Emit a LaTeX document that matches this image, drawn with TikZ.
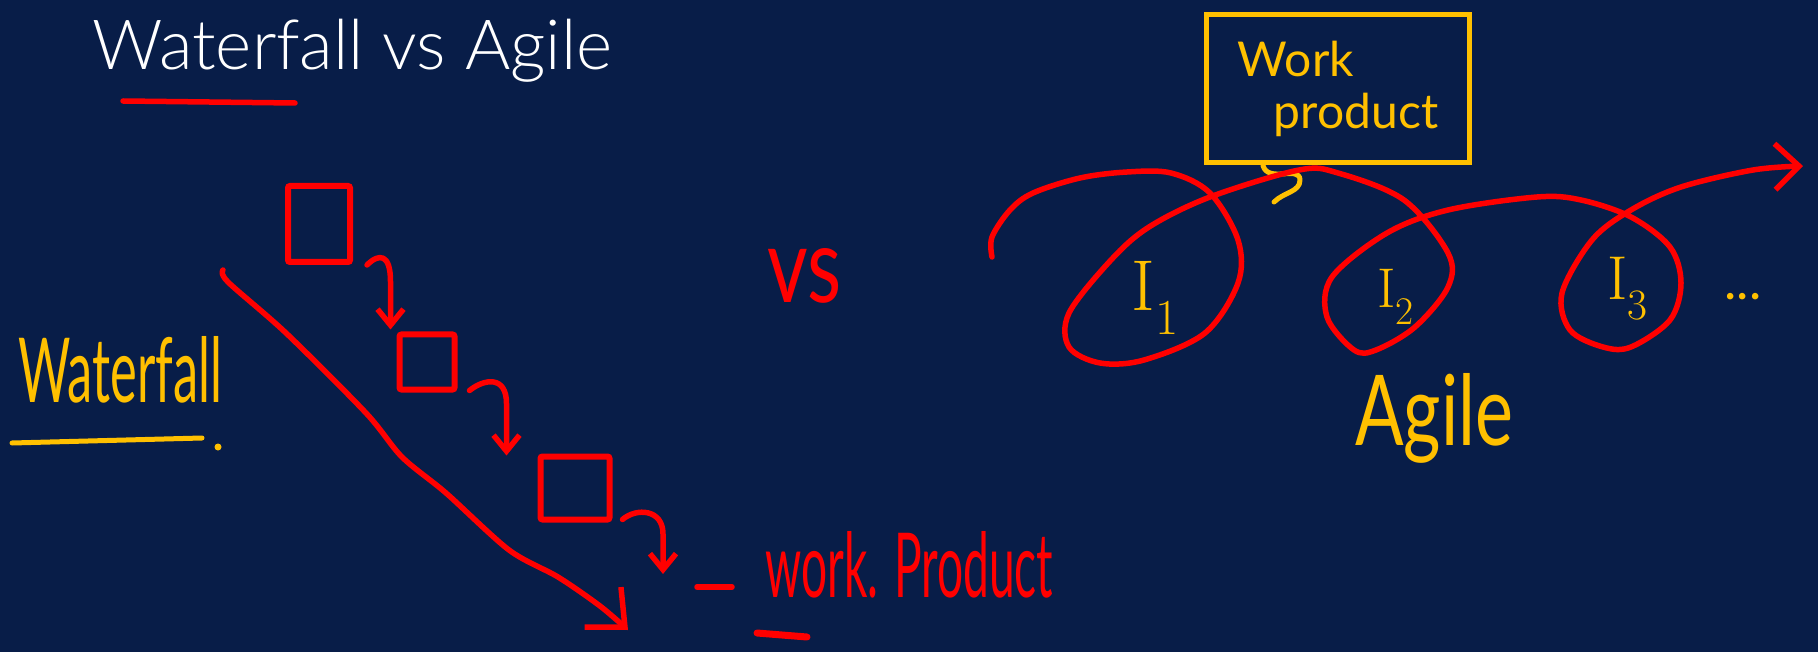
\documentclass[tikz,border=0pt]{standalone}
\usepackage{fontspec}
\setsansfont{Lato}
\newfontfamily\titlefont{Lato Light}
\usetikzlibrary{arrows.meta,calc}
\definecolor{bg}{HTML}{081D48}
\definecolor{wfred}{HTML}{FF0000}
\definecolor{wfyel}{HTML}{FFC000}
\begin{document}
\begin{tikzpicture}[x=1pt,y=-1pt,
  wred/.style={draw=wfred, line width=5.5pt, line cap=round, line join=round},
  wyel/.style={draw=wfyel, line width=5pt, line cap=round, line join=round},
  stage/.style={draw=wfred, line width=6pt, rectangle, rounded corners=2pt, inner sep=0pt},
  tipv/.style={-{Straight Barb[length=16pt,width=26pt]}},
  hand/.style={font=\sffamily, inner sep=0pt},
]
\useasboundingbox (0,0) rectangle (1818,652);
\fill[bg] (0,0) rectangle (1818,652);

% title
\node[inner sep=0pt, anchor=base west, text=white, font=\titlefont] (title) at (92,70) {\resizebox{520pt}{!}{Waterfall vs Agile}};
\draw[wred, line width=5.5pt] (123,101) -- (295,103);

% waterfall label
\node[hand, anchor=base west, text=wfyel] (wfl) at (18,402) {\resizebox{204pt}{66pt}{Waterfall}};
\draw[wyel] (12,443) -- (202,438);
\fill[wfyel] (218,447) circle (3.5pt);

% stages
\node[stage, minimum width=62pt, minimum height=76pt] (b1) at (319,224) {};
\node[stage, minimum width=55pt, minimum height=55pt] (b2) at (427,362) {};
\node[stage, minimum width=69pt, minimum height=63pt] (b3) at (575,488) {};
\coordinate (a3e) at (663,574);

\draw[wred,tipv] ($(b1.south east)+(14,0)$) .. controls +(12,-12) and +(0,-28) .. ($(b2.north west)+(-6,-50)$) -- ($(b2.north west)+(-6,-2)$);
\draw[wred,tipv] ($(b2.south east)+(12,-2)$) .. controls +(15,-12) and +(0,-28) .. ($(b3.north west)+(-31,-50)$) -- ($(b3.north west)+(-31,2)$);
\draw[wred,tipv] ($(b3.south east)+(10,-3)$) .. controls +(14,-12) and +(0,-25) .. ($(a3e)+(0,-40)$) -- (a3e);

% long diagonal
\coordinate (ds) at (223,270);
\coordinate (de) at (628,630);
\draw[wred, -{Straight Barb[length=30pt,width=54pt]}] plot[smooth, tension=0.5] coordinates {(ds) (228,282) (286,333) (366,413) (402,457) (446,493) (509,550) (558,577) (600,606) (de)};

% work product (waterfall)
\draw[wred] (697,587) -- (732,587);
\node[hand, anchor=base west, text=wfred] (wprod) at (765,597) {\resizebox{288pt}{66pt}{work. Product}};
\draw[wred, line width=7pt] (757,633) -- (807,637);

% vs
\node[hand, text=wfred] (vs) at (805,276) {\resizebox{74pt}{54pt}{vs}};

% agile
\node[draw=wfyel, line width=5pt, minimum width=263pt, minimum height=148pt, align=left, text=wfyel, font=\sffamily\fontsize{48}{52}\selectfont] (wpbox) at (1338,89) {Work\\\hspace*{36pt}product};
\coordinate (sqe) at (1274,202);
\draw[wyel] ($(wpbox.south west)+(59,0)$) .. controls +(5,18) and +(0,-15) .. (1300,180) .. controls +(0,12) and +(10,-10) .. (sqe);

\coordinate (ss) at (992,257);
\coordinate (se) at (1803,166);
\draw[wred, line width=5.5pt, -{Straight Barb[length=24pt,width=46pt]}] plot[smooth, tension=0.55] coordinates {(ss) (992,237) (1010,210) (1033,193) (1080,178) (1127,172) (1171,173) (1210,193) (1238,240) (1238,283) (1205,333) (1144,360) (1100,363) (1069,347) (1069,313) (1111,260) (1149,227) (1210,197) (1299,170) (1338,173) (1404,200) (1448,253) (1448,287) (1415,327) (1376,350) (1354,350) (1327,317) (1332,277) (1387,233) (1448,210) (1537,197) (1581,200) (1631,217) (1670,247) (1681,283) (1670,320) (1631,347) (1603,347) (1570,330) (1562,293) (1592,240) (1631,210) (1681,187) (1753,170) (se)};

\node[text=wfyel, inner sep=0pt, font=\rmfamily\fontsize{72}{72}\selectfont] (i1) at (1155,298) {I\textsubscript{1}};
\node[text=wfyel, inner sep=0pt, font=\rmfamily\fontsize{56}{56}\selectfont] (i2) at (1396,297) {I\textsubscript{2}};
\node[text=wfyel, inner sep=0pt, font=\rmfamily\fontsize{62}{62}\selectfont] (i3) at (1628,289) {I\textsubscript{3}};
\node[hand, anchor=base, text=wfyel, font=\sffamily\fontsize{52}{52}\selectfont] (dots) at (1743,300) {...};

\node[hand, anchor=base west, text=wfyel] (agile) at (1355,445) {\resizebox{158pt}{72pt}{Agile}};
\end{tikzpicture}
\end{document}
